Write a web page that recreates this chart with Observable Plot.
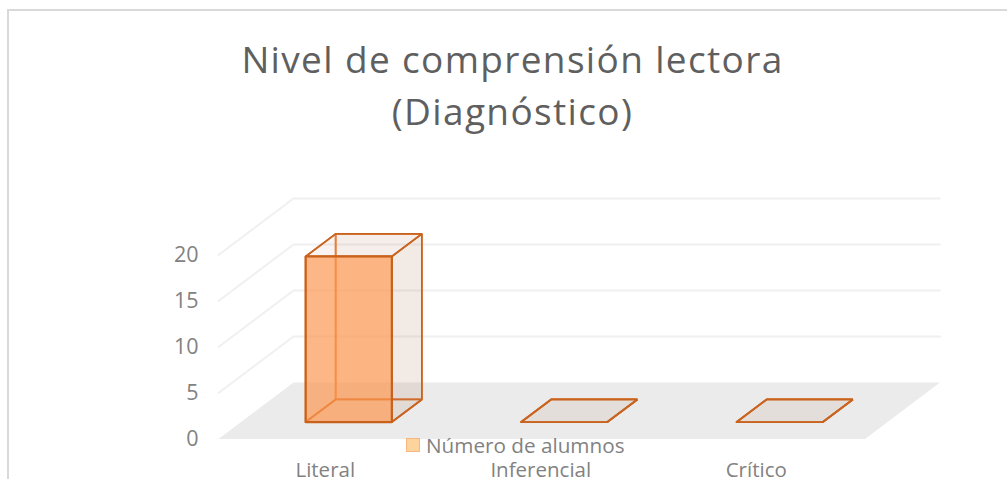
<!DOCTYPE html>
<html>
<head>
<meta charset="utf-8">
<script src="https://cdn.jsdelivr.net/npm/d3@7"></script>
<script src="https://cdn.jsdelivr.net/npm/@observablehq/plot@0.6"></script>
<style>
html,body{margin:0;padding:0;background:#fff;overflow:hidden}
#chart{position:relative;width:1007px;height:479px;font-family:"Open Sans",sans-serif;overflow:hidden}
#frame{position:absolute;left:7px;top:9px;width:1000px;height:470px;border-left:2px solid #d9d9d9;border-top:2px solid #d9d9d9;box-sizing:border-box}
#title{position:absolute;left:0;top:33px;width:1025px;text-align:center;font-size:37px;line-height:52px;letter-spacing:1.35px;color:#5f5f5f;font-weight:400}
#legend{position:absolute;left:406px;top:433px;display:flex;align-items:center;font-size:20.7px;line-height:24px;color:#828282}
#legend i{display:block;width:12px;height:12px;margin-right:6px;background:#fdd49d;border:1.5px solid #f8b77f}
svg{position:absolute;left:0;top:0}
</style>
</head>
<body>
<div id="chart">
<div id="frame"></div>
<div id="plot"></div>
<div id="title">Nivel de comprensión lectora<br>(Diagnóstico)</div>
<div id="legend"><i></i><span>Número de alumnos</span></div>
</div>
<script>
const categories = ["Literal", "Inferencial", "Crítico"];
const values = [18, 0, 0];
const yTicks = [0, 5, 10, 15, 20];

// oblique projection of (category position, value, depth) onto the two Plot scales
const depthX = 0.348, depthY = 6.14;
const px = (c, z) => c + z * depthX;
const py = (v, z) => v + z * depthY;
const pt = (c, v, z, face) => ({x: px(c, z), y: py(v, z), face});
const poly = (face, pts) => pts.map(([c, v, z]) => pt(c, v, z, face));

const floor = poly("floor", [[0,0,0],[3,0,0],[3,0,1],[0,0,1],[0,0,0]]);
const grid = yTicks.filter(t => t > 0).flatMap(t =>
  poly(t, [[0,t,0],[0,t,1],[3,t,1]]));

const faces = {back: [], left: [], bottom: [], right: [], top: [], front: []};
categories.forEach((name, i) => {
  const v = values[i], a = i + 0.3, b = i + 0.7, n = 0.3, f = 0.7;
  const k = s => name + s;
  faces.back.push(...poly(k("b"), [[a,0,f],[b,0,f],[b,v,f],[a,v,f],[a,0,f]]));
  faces.left.push(...poly(k("l"), [[a,0,n],[a,0,f],[a,v,f],[a,v,n],[a,0,n]]));
  faces.bottom.push(...poly(k("u"), [[a,0,n],[b,0,n],[b,0,f],[a,0,f],[a,0,n]]));
  faces.right.push(...poly(k("r"), [[b,0,n],[b,0,f],[b,v,f],[b,v,n],[b,0,n]]));
  faces.top.push(...poly(k("t"), [[a,v,n],[b,v,n],[b,v,f],[a,v,f],[a,v,n]]));
  if (v > 0) faces.front.push(...poly(k("f"), [[a,0,n],[b,0,n],[b,v,n],[a,v,n],[a,0,n]]));
});

const face = (rows, fill, stroke, strokeWidth) =>
  Plot.line(rows, {x: "x", y: "y", z: "face", fill, stroke, strokeWidth, strokeLinejoin: "miter", curve: "linear"});

const chart = Plot.plot({
  width: 1007, height: 479,
  marginTop: 0, marginRight: 0, marginBottom: 0, marginLeft: 0,
  style: {background: "transparent", fontFamily: '"Open Sans",sans-serif'},
  x: {type: "linear", domain: [0, 3 + depthX], range: [218, 939.5], axis: null},
  y: {type: "linear", domain: [0, 20 + depthY], range: [438.5, 198], axis: null},
  marks: [
    Plot.line(floor, {x: "x", y: "y", z: "face", fill: "#ebebeb", stroke: "none"}),
    Plot.line(grid, {x: "x", y: "y", z: "face", stroke: "#f0f0f0", strokeWidth: 2}),
    face(faces.back, "rgba(190,140,110,0.10)", "#e6803a", 1.7),
    face(faces.left, "rgba(190,140,110,0.05)", "#e6803a", 1.7),
    face(faces.bottom, "rgba(190,140,110,0.09)", "#d0682a", 1.8),
    face(faces.right, "rgba(190,140,110,0.09)", "#c8641f", 1.7),
    face(faces.top, "rgba(190,140,110,0.04)", "#c8641f", 1.8),
    face(faces.front, "rgba(253,150,78,0.68)", "#c8611c", 2.2),
    Plot.text(yTicks, {
      x: () => 0, y: d => d, text: d => String(d), textAnchor: "end",
      dx: -20, dy: 0, fontSize: 21.5, fill: "#828282"
    }),
    Plot.text(categories, {
      x: (d, i) => i + 0.5, y: () => 0, text: d => d,
      dx: -1, dy: 31.5, fontSize: 20.5, fill: "#828282"
    })
  ]
});
document.getElementById("plot").appendChild(chart);
</script>
</body>
</html>
